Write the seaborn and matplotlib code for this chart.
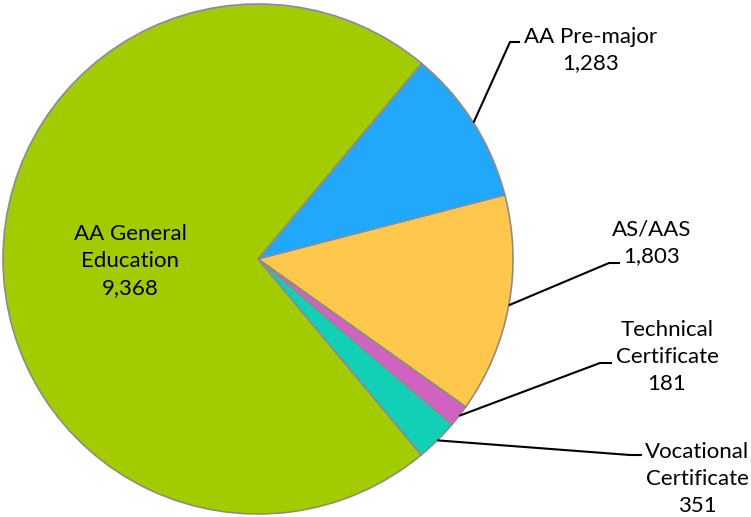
#!/usr/bin/env python3
# -*- coding: utf-8 -*-

"""
Pie chart of degree/certificate program enrollment.
"""

import numpy as np
import matplotlib
matplotlib.use("Agg")
import matplotlib.pyplot as plt
import seaborn as sns

# Data
programs = ['AA Pre-major', 'AS/AAS', 'Technical\nCertificate',
            'Vocational\nCertificate', 'AA General\nEducation']
counts = [1283, 1803, 181, 351, 9368]
colors = ['#22A8FA', '#FFC84C', '#D262C2', '#12D0B6', '#A2CC00']

# Layout (pixel coordinates, y measured from the top)
W, H = 751, 517
CENTER = (258, 259)
RADIUS = 255
START_ANGLE = 50.1
# label centre and leader elbow for each outside label (None = inside)
label_pos = [(591, 50), (652, 243), (667, 357), (697, 479), (130, 261)]
elbow_pts = [((510, 42), (520, 42)), ((609, 263), (620, 263)),
             ((600, 363), (612, 363)), ((630, 455), (642, 455)), None]

sns.set_style("white")
plt.rcParams['font.family'] = ['Lato', 'DejaVu Sans']

fig = plt.figure(figsize=(W / 100, H / 100), dpi=100)
ax = fig.add_axes([0, 0, 1, 1])

cx, cy = CENTER[0], H - CENTER[1]
wedges, _ = ax.pie(counts, colors=sns.color_palette(colors), startangle=START_ANGLE,
                   counterclock=False, center=(cx, cy), radius=RADIUS,
                   wedgeprops=dict(edgecolor='#8C8C8C', linewidth=1.2),
                   frame=True)
ax.set_xlim(0, W)
ax.set_ylim(0, H)
ax.set_aspect('equal')
ax.axis('off')

for wedge, name, value, pos, elbow in zip(wedges, programs, counts, label_pos, elbow_pts):
    ax.text(pos[0], H - pos[1], f"{name}\n{value:,}", ha='center', va='center',
            fontsize=16, linespacing=1.42, color='black')
    if elbow is None:
        continue
    # leader line starts on the rim at the middle of the wedge
    mid = np.deg2rad((wedge.theta1 + wedge.theta2) / 2)
    x0 = cx + RADIUS * np.cos(mid)
    y0 = cy + RADIUS * np.sin(mid)
    (x1, y1), (x2, y2) = elbow
    ax.plot([x0, x1, x2], [y0, H - y1, H - y2], color='black', lw=1.5,
            solid_capstyle='butt')

fig.savefig('out.png', dpi=100)
plt.close(fig)
